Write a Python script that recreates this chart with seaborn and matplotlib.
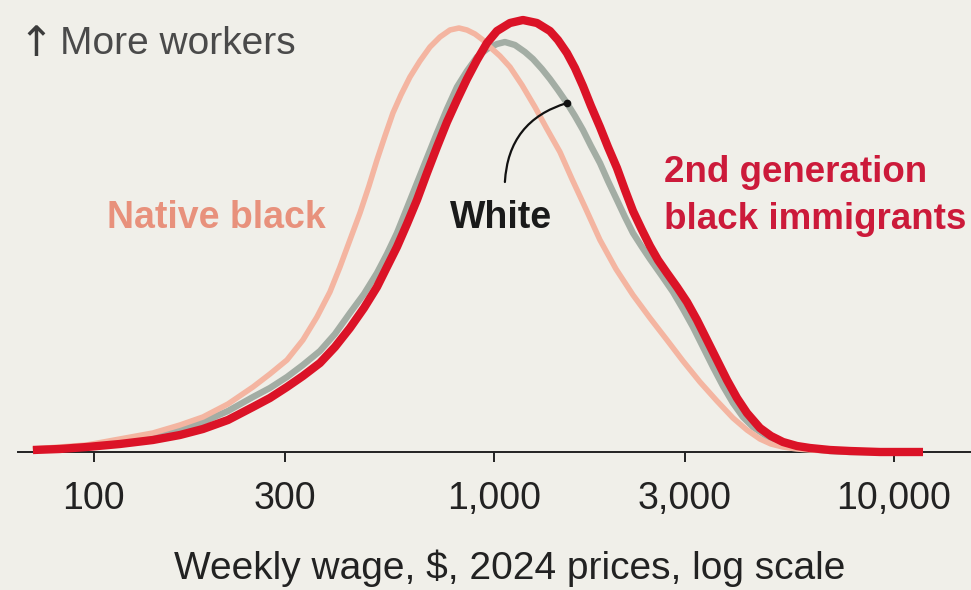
import numpy as np
import pandas as pd
import matplotlib
matplotlib.use("Agg")
import matplotlib.pyplot as plt
import seaborn as sns

# Weekly wage ($, 2024 prices) and relative density of workers (index, peak ~432)
wage_red = [70.4, 82.2, 96.0, 116.1, 140.4, 164.1, 187.3, 216.3, 249.8, 275.4, 303.8, 333.0,
            367.3, 400.4, 436.5, 473.2, 510.0, 540.1, 572.1, 606.1, 642.0, 680.0, 720.3,
            763.0, 808.2, 856.1, 907.0, 960.6, 1017.4, 1096.5, 1181.6, 1280.9, 1380.4,
            1445.4, 1521.9, 1594.0, 1669.1, 1747.8, 1840.8, 1927.5, 2030.0, 2125.7,
            2225.9, 2344.2, 2454.7, 2570.4, 2707.1, 2867.5, 3037.4, 3217.4, 3408.0,
            3609.9, 3823.7, 4050.3, 4290.3, 4623.8, 4926.1, 5278.5, 5721.5, 6165.9,
            6918.3, 7762.5, 9225.7, 11817]
dens_red = [2, 3, 5, 8, 12, 17, 23, 32, 45, 54, 65, 76,
            89, 105, 124, 144, 165, 185, 205, 228, 252, 279, 305,
            330, 352, 373, 392, 409, 421, 429, 432, 429, 421,
            412, 399, 384, 366, 346, 325, 305, 284, 262,
            241, 222, 206, 192, 179, 165, 150, 132, 112,
            92, 72, 54, 39, 24, 16, 10, 6, 4,
            2, 1, 0, 0]

wage_white = [70.4, 82.2, 96.0, 116.1, 140.4, 164.1, 187.3, 216.3, 249.8, 275.4, 303.8, 333.0,
              367.3, 400.4, 436.5, 473.2, 510.0, 540.1, 572.1, 606.1, 642.0, 680.0, 720.3,
              763.0, 808.2, 856.1, 907.0, 960.6, 1017.4, 1065.3, 1128.5, 1195.4, 1251.7,
              1318.3, 1380.4, 1445.4, 1521.9, 1594.0, 1669.1, 1747.8, 1840.8, 1927.5,
              2030.0, 2125.7, 2225.9, 2344.2, 2454.7, 2630.3, 2802.3, 2968.3, 3144.2,
              3330.5, 3527.8, 3736.7, 3958.1, 4192.6, 4441.0, 4841.7, 5278.5, 5721.5,
              6165.9, 6918.3, 7762.5, 11817]
dens_white = [2, 4, 6, 10, 15, 22, 30, 41, 55, 64, 75, 87,
              101, 118, 139, 158, 179, 198, 219, 244, 269, 294, 319,
              343, 365, 381, 395, 403, 408, 410, 407, 400, 393,
              383, 373, 362, 349, 336, 322, 306, 289, 271,
              252, 235, 219, 205, 193, 176, 160, 143, 125,
              105, 85, 66, 49, 35, 25, 15, 9, 5,
              3, 1, 0, 0]

wage_native = [70.4, 82.2, 96.0, 116.1, 140.4, 164.1, 187.3, 216.3, 249.8, 275.4, 303.8, 333.0,
               361.0, 389.0, 412.1, 436.5, 462.4, 487.0, 510.0, 534.0, 559.1, 585.4, 616.6,
               653.1, 691.8, 732.8, 776.2, 817.6, 856.1, 896.5, 938.7, 977.2, 1035.1,
               1096.5, 1174.9, 1266.2, 1356.8, 1462.2, 1566.8, 1688.4, 1840.8, 2018.4,
               2225.9, 2454.7, 2707.1, 2968.3, 3273.4, 3609.9, 3958.1, 4290.3, 4623.8,
               4926.1, 5278.5, 5721.5, 6165.9, 6918.3, 7762.5, 11817]
dens_native = [3, 5, 7, 13, 19, 27, 35, 48, 65, 78, 92, 112,
               135, 160, 185, 212, 239, 266, 292, 316, 339, 357, 375,
               391, 405, 415, 422, 424, 422, 418, 412, 405, 396,
               385, 367, 345, 323, 300, 273, 245, 212, 183,
               157, 134, 112, 91, 70, 51, 34, 22, 13,
               8, 5, 3, 2, 1, 0, 0]

tick_values = [100, 300, 1000, 3000, 10000]
tick_labels = ["100", "300", "1,000", "3,000", "10,000"]

BG = "#F0EFE9"
RED = "#DB1327"
GREY = "#A3ADA4"
SALMON = "#F4B5A1"
INK = "#222222"

sns.set_style("white")
plt.rcParams["font.family"] = ["Liberation Sans", "DejaVu Sans"]

fig = plt.figure(figsize=(9.71, 5.90), dpi=100, facecolor=BG)
ax = fig.add_axes([18 / 971, 138 / 590, 953 / 971, 452 / 590])
ax.set_facecolor(BG)

sns.lineplot(x=wage_white, y=dens_white, color=GREY, linewidth=4.6, ax=ax, zorder=2)
sns.lineplot(x=wage_native, y=dens_native, color=SALMON, linewidth=4.0, ax=ax, zorder=3)
sns.lineplot(x=wage_red, y=dens_red, color=RED, linewidth=6.0, ax=ax, zorder=4)
for line in ax.lines:
    line.set_clip_on(False)
    line.set_solid_capstyle("butt")
    line.set_solid_joinstyle("round")

ax.set_xscale("log")
ax.set_xlim(64.6, 15577)
ax.set_ylim(0, 452)

ax.set_xticks(tick_values)
ax.set_xticklabels(tick_labels)
ax.xaxis.set_minor_locator(matplotlib.ticker.NullLocator())
ax.set_yticks([])
ax.tick_params(axis="x", length=7.2, width=1.4, color=INK, pad=14,
               labelsize=27, labelcolor=INK, direction="out", bottom=True)
for s in ["top", "left", "right"]:
    ax.spines[s].set_visible(False)
ax.spines["bottom"].set_linewidth(1.4)
ax.spines["bottom"].set_color(INK)
ax.spines["bottom"].set_zorder(1)

ax.set_xlabel("Weekly wage, $, 2024 prices, log scale", fontsize=28, color=INK, va="center")
ax.xaxis.set_label_coords(0.516, -0.257)
ax.set_ylabel("")

# labels
ax.text(0.0, 0.902, "\u2191", transform=ax.transAxes, fontsize=30,
        color="#3C3C3C", ha="left", va="center", family=["DejaVu Sans"])
ax.text(42 / 953, 0.902, "More workers", transform=ax.transAxes, fontsize=28,
        color="#4A4A4A", ha="left", va="center")
ax.text(108, 234, "Native black", fontsize=27, fontweight="bold", color="#E8917C",
        ha="left", va="center")
ax.text(1041, 234, "White", fontsize=27, fontweight="bold", color="#1A1A1A",
        ha="center", va="center")
ax.text(2660, 256, "2nd generation\nblack immigrants", fontsize=26.5, fontweight="bold",
        color="#CC1A3A", ha="left", va="center", linespacing=1.45)

# leader line for White
ax.annotate("", xy=(1522, 349), xytext=(1065, 270),
            arrowprops=dict(arrowstyle="-", color="#111111", lw=1.6,
                            connectionstyle="arc3,rad=-0.35", shrinkA=0, shrinkB=0),
            zorder=6)
ax.plot([1522], [349], marker="o", markersize=4.5, color="#111111", zorder=7)

fig.savefig("out.png", dpi=100, facecolor=BG)
